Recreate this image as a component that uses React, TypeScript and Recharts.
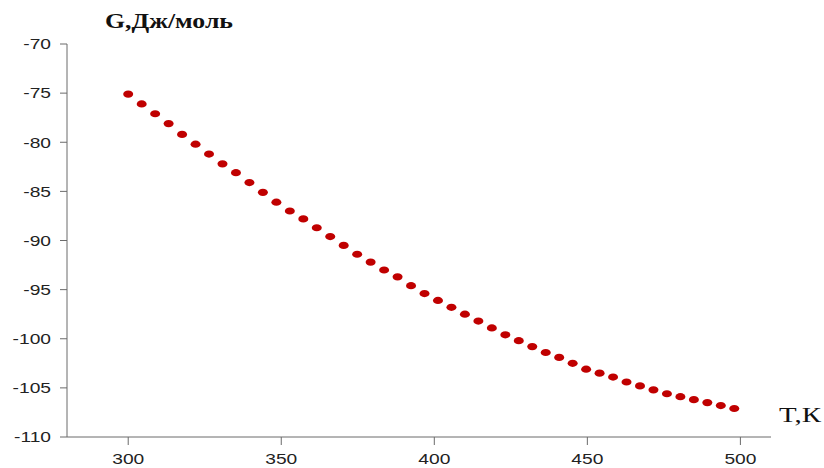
import { ScatterChart, Scatter, XAxis, YAxis, Label } from "recharts";

// temperature, K
const temps = [
  300, 304.4, 308.8, 313.2, 317.6, 322, 326.4, 330.8, 335.2, 339.6,
  344, 348.4, 352.8, 357.2, 361.6, 366, 370.4, 374.8, 379.2, 383.6,
  388, 392.4, 396.8, 401.2, 405.6, 410, 414.4, 418.8, 423.2, 427.6,
  432, 436.4, 440.8, 445.2, 449.6, 454, 458.4, 462.8, 467.2, 471.6,
  476, 480.4, 484.8, 489.2, 493.6, 498,
];

// Gibbs energy, J/mol
const gibbs = [
  -75.1, -76.1, -77.1, -78.1, -79.2, -80.2, -81.2, -82.2, -83.1, -84.1,
  -85.1, -86.1, -87.0, -87.8, -88.7, -89.6, -90.5, -91.4, -92.2, -93.0,
  -93.7, -94.6, -95.4, -96.1, -96.8, -97.5, -98.2, -98.9, -99.6, -100.2,
  -100.8, -101.4, -101.9, -102.5, -103.1, -103.5, -103.9, -104.4, -104.8, -105.2,
  -105.6, -105.9, -106.2, -106.5, -106.8, -107.1,
];

const xTicks = [300, 350, 400, 450, 500];
const yTicks = [-110, -105, -100, -95, -90, -85, -80, -75, -70];

const data = temps.map((t, i) => ({ t, g: gibbs[i] }));

const AXIS = "#6b6b6b";
const SANS = "'Liberation Sans', Arial, sans-serif";
const SERIF = "'Liberation Serif', 'Times New Roman', serif";

// the original picture is stretched sideways a bit, so text is widened too
const StretchTick = (props: any) => {
  const { x, y, payload, textAnchor } = props;
  return (
    <g transform={`translate(${x},${y}) scale(1.28,1)`}>
      <text x={0} y={0} dy="0.355em" textAnchor={textAnchor} fontFamily={SANS} fontSize={15} fill="#222">
        {payload.value}
      </text>
    </g>
  );
};

const Dot = (props: any) => (
  <ellipse cx={props.cx} cy={props.cy} rx={5} ry={3.6} fill="#c00000" />
);

export default function App() {
  return (
    <div style={{ position: "absolute", left: 0, top: 0, background: "#fff" }}>
      <ScatterChart width={824} height={468} margin={{ top: 44, right: 53, bottom: 0, left: 0 }}>
        <XAxis
          type="number"
          dataKey="t"
          domain={[280, 510]}
          ticks={xTicks}
          height={31}
          stroke={AXIS}
          tickSize={8}
          tickMargin={14}
          tick={<StretchTick />}
        >
          <Label
            content={({ viewBox }: any) => (
              <text
                x={viewBox.x + viewBox.width + 8}
                y={viewBox.y - 15}
                fontFamily={SERIF}
                fontSize={21}
                textLength={42}
                lengthAdjust="spacingAndGlyphs"
                fill="#111"
              >
                T,К
              </text>
            )}
          />
        </XAxis>
        <YAxis
          type="number"
          dataKey="g"
          domain={[-110, -70]}
          ticks={yTicks}
          width={67}
          stroke={AXIS}
          tickSize={7}
          tickMargin={9}
          tick={<StretchTick />}
        >
          <Label
            content={({ viewBox }: any) => (
              <text
                x={viewBox.x + 105}
                y={viewBox.y - 16}
                fontFamily={SERIF}
                fontSize={20}
                fontWeight="bold"
                textLength={128}
                lengthAdjust="spacingAndGlyphs"
                fill="#111"
              >
                G,Дж/моль
              </text>
            )}
          />
        </YAxis>
        <Scatter data={data} shape={Dot} isAnimationActive={false} />
      </ScatterChart>
    </div>
  );
}
